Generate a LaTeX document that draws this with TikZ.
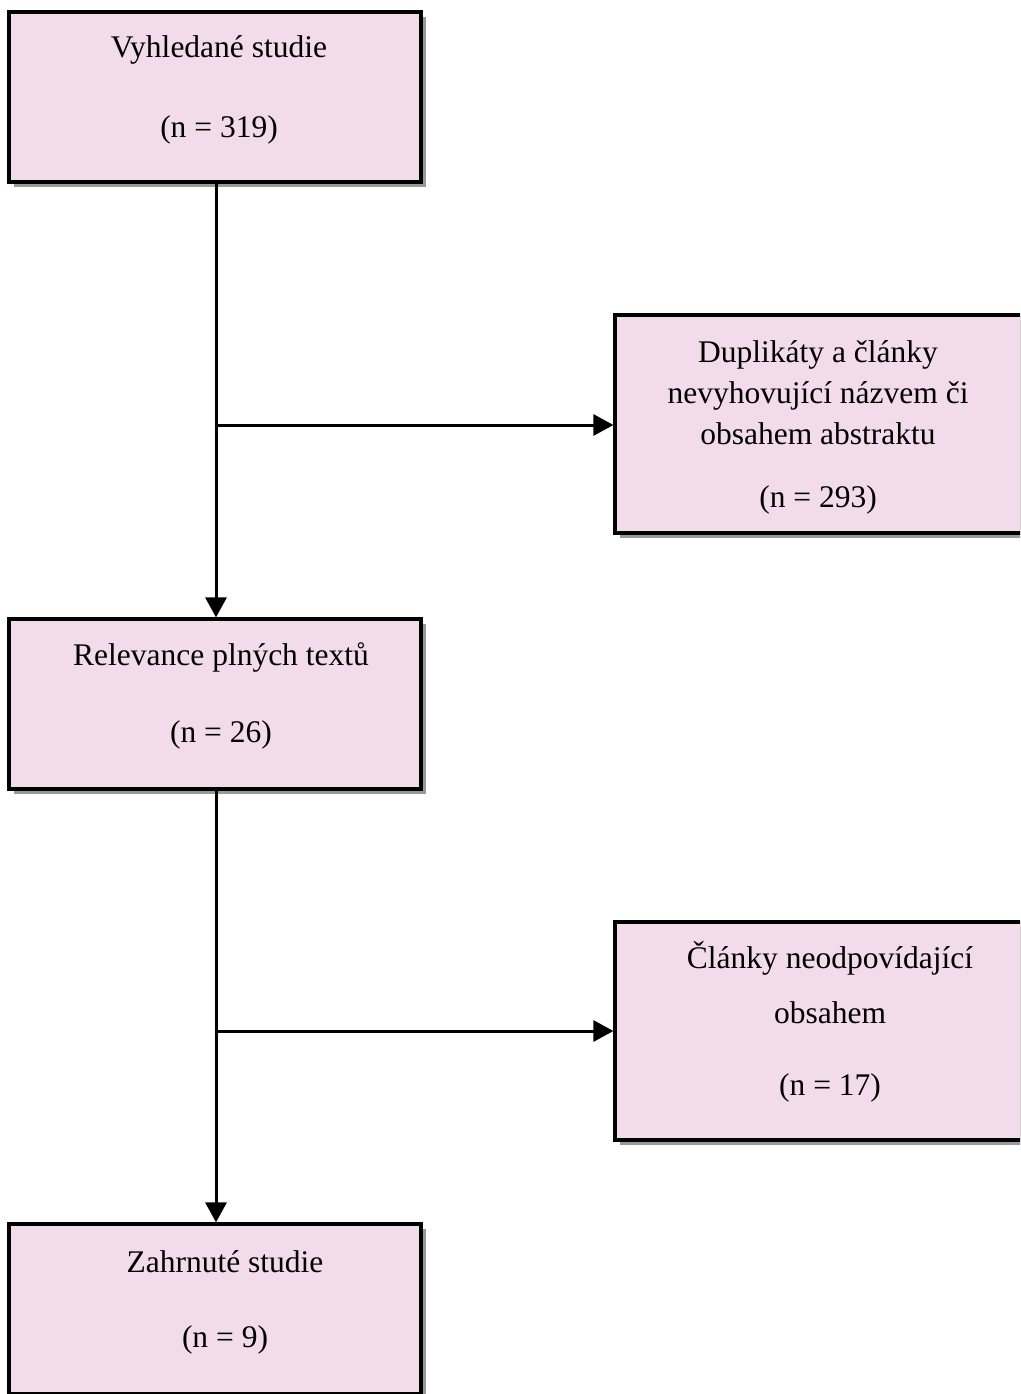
\documentclass[tikz,border=0pt]{standalone}
\usepackage{fontspec}
\setmainfont{Liberation Serif}
\usetikzlibrary{arrows.meta,shadows}
\definecolor{boxfill}{RGB}{242,220,235}
\begin{document}
\begin{tikzpicture}[x=1pt,y=-1pt,
  box/.style={draw=black,line width=3.2pt,fill=boxfill,minimum width=412pt,inner sep=0pt,
    drop shadow={shadow xshift=5pt,shadow yshift=-5pt,fill=black!40,opacity=1}},
  sidebox/.style={box,minimum width=407pt,minimum height=218pt},
  mainbox/.style={box,minimum height=170pt},
  txt/.style={font=\fontsize{31.5}{41}\selectfont,align=center,inner sep=0pt},
  conn/.style={line width=3pt,-{Triangle[length=20pt,width=21pt]}}]
\clip (0,0) rectangle (1020,1394);
\fill[white] (0,0) rectangle (1020,1394);
\node[mainbox] (b1) at (215,97) {};
\node[sidebox] (b2) at (818.5,424) {};
\node[mainbox] (b3) at (215,704) {};
\node[sidebox] (b4) at (818.5,1031) {};
\node[mainbox] (b5) at (215,1309) {};
% texts
\node[txt] (t1a) at (219,50) {Vyhledané studie};
\node[txt] (t1b) at (219,130) {(n = 319)};
\node[txt] (t2a) at (818,393) {Duplikáty a články\\nevyhovující názvem či\\obsahem abstraktu};
\node[txt] (t2b) at (818,500) {(n = 293)};
\node[txt] (t3a) at (221,657) {Relevance plných textů};
\node[txt] (t3b) at (221,735) {(n = 26)};
\node[txt] (t4a) at (830,958) {Články neodpovídající};
\node[txt] (t4b) at (830,1013) {obsahem};
\node[txt] (t4c) at (830,1088) {(n = 17)};
\node[txt] (t5a) at (225,1262) {Zahrnuté studie};
\node[txt] (t5b) at (225,1340) {(n = 9)};
% connectors
\coordinate (j1) at (216,425);
\coordinate (j2) at (216,1031);
\draw[conn] (b1.south -| j1) -- (b3.north -| j1);
\draw[conn] (j1) -- (j1 -| b2.west);
\draw[conn] (b3.south -| j2) -- (b5.north -| j2);
\draw[conn] (j2) -- (j2 -| b4.west);
\end{tikzpicture}
\end{document}
